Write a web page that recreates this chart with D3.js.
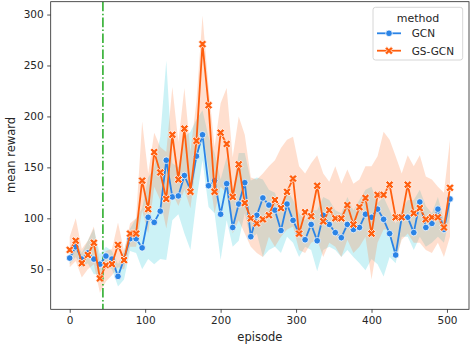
<!DOCTYPE html>
<html><head><meta charset="utf-8">
<script src="https://cdn.jsdelivr.net/npm/d3@7"></script>
<style>html,body{margin:0;padding:0;background:#fff;} svg{display:block;font-family:"DejaVu Sans",sans-serif;}</style>
</head><body>
<svg id="chart" width="473" height="347"></svg>
<script>
const episodes = [0,8,16,24,32,40,48,56,64,72,80,88,96,104,112,120,128,136,144,152,160,168,176,184,192,200,208,216,224,232,240,248,256,264,272,280,288,296,304,312,320,328,336,344,352,360,368,376,384,392,400,408,416,424,432,440,448,456,464,472,480,488,496,504];
const gcnMean = [61,72,60,66,60,55,63,60,43,60,80,80,71,101,96,107,157,121,122,142,128,161,182,132,137,104,134,91,114,135,82,103,120,113,108,88,114,98,85,79,94,78,103,94,86,81,94,89,91,104,101,109,99,85,64,101,101,86,116,91,95,109,89,119];
const gcnLow = [55,62,52,56,45,45,52,50,33,40,68,66,50,60,55,60,59,98,104,85,69,118,157,111,105,59,98,72,78,105,79,85,62,69,72,66,82,76,62,72,69,48,69,72,69,62,69,62,56,49,60,55,43,62,56,82,82,69,82,72,76,82,76,102];
const gcnHigh = [68,78,66,78,90,65,72,68,55,68,90,100,110,140,150,180,255,154,150,180,185,197,206,180,164,138,160,125,164,164,137,140,138,128,125,108,128,118,105,98,108,108,121,118,108,105,121,108,118,128,131,115,121,108,95,108,118,118,128,112,105,121,98,128];
const gsMean = [69,78,56,64,76,41,54,55,74,59,85,85,137,109,165,145,119,182,138,188,126,176,271,211,126,184,173,121,153,115,100,95,99,103,118,110,126,139,85,106,102,132,97,108,100,100,113,94,111,120,85,123,123,133,101,101,133,105,110,99,101,101,91,130];
const gsLow = [52,58,42,50,55,27,38,44,52,50,72,72,108,85,131,118,90,125,112,128,110,157,184,148,105,131,125,85,98,85,72,66,62,82,72,82,89,92,69,66,76,79,62,76,72,62,79,66,72,82,40,76,89,89,59,79,85,76,76,69,66,76,62,82];
const gsHigh = [82,100,70,78,92,55,68,70,96,68,95,100,195,144,184,170,165,229,175,228,165,215,299,229,170,213,228,160,200,182,140,138,144,151,157,169,177,180,151,144,154,162,144,136,151,134,148,134,138,151,151,161,185,177,161,144,162,151,162,141,138,131,125,177];
const xTicks = [0,100,200,300,400,500];
const yTicks = [50,100,150,200,250,300];
const methods = ["GCN","GS-GCN"];
const markerEpisode = 44;

const svg = d3.select("#chart");
const L = 50.7, R = 469, T = 1.7, B = 309.3;
const x = d3.scaleLinear().domain([-25.2, 529.2]).range([L, R]);
const y = d3.scaleLinear().domain([10.7, 312.6]).range([B, T]);

const colors = {"GCN": "#2b84e6", "GS-GCN": "#ff5f0f"};
const bandColors = {"GCN": "rgba(0,188,212,0.2)", "GS-GCN": "rgba(255,127,63,0.25)"};

const series = [
  {name: "GCN", mean: gcnMean, low: gcnLow, high: gcnHigh},
  {name: "GS-GCN", mean: gsMean, low: gsLow, high: gsHigh}
];

svg.append("clipPath").attr("id","clip").append("rect")
  .attr("x", L).attr("y", T).attr("width", R-L).attr("height", B-T);

const plot = svg.append("g").attr("clip-path","url(#clip)");

series.forEach(s => {
  const area = d3.area()
    .x((d,i) => x(episodes[i]))
    .y0((d,i) => y(s.low[i]))
    .y1((d,i) => y(s.high[i]));
  plot.append("path").datum(s.mean).attr("d", area).attr("fill", bandColors[s.name]).attr("stroke","none");
});

plot.append("line").attr("x1", x(markerEpisode)).attr("x2", x(markerEpisode))
  .attr("y1", T).attr("y2", B)
  .attr("stroke", "#1fa81f").attr("stroke-width", 1.5)
  .attr("stroke-dasharray", "9.6,2.4,1.5,2.4");

const xSym = d3.symbol(d3.symbolCross, 42);
series.forEach(s => {
  const line = d3.line().x((d,i) => x(episodes[i])).y(d => y(d));
  plot.append("path").datum(s.mean).attr("d", line).attr("fill","none")
    .attr("stroke", colors[s.name]).attr("stroke-width", 1.8).attr("stroke-linejoin","round");
  const g = plot.append("g");
  s.mean.forEach((v,i) => {
    if (s.name === "GCN") {
      g.append("circle").attr("cx", x(episodes[i])).attr("cy", y(v)).attr("r", 3.3)
        .attr("fill", colors[s.name]).attr("stroke","#fff").attr("stroke-width",0.75);
    } else {
      g.append("path").attr("d", xSym())
        .attr("transform", `translate(${x(episodes[i])},${y(v)}) rotate(45)`)
        .attr("fill", colors[s.name]).attr("stroke","#fff").attr("stroke-width",0.75);
    }
  });
});

const xAxis = d3.axisBottom(x).tickValues(xTicks).tickSize(3.5).tickPadding(3.5);
const yAxis = d3.axisLeft(y).tickValues(yTicks).tickSize(3.5).tickPadding(3.5);
const gx = svg.append("g").attr("transform", `translate(0,${B})`).call(xAxis);
const gy = svg.append("g").attr("transform", `translate(${L},0)`).call(yAxis);
[gx, gy].forEach(g => {
  g.select(".domain").remove();
  g.selectAll("line").attr("stroke","#262626").attr("stroke-width",0.8);
  g.selectAll("text").attr("font-size", 10.5).attr("fill","#262626").attr("font-family","DejaVu Sans");
});

svg.append("rect").attr("x", L).attr("y", T).attr("width", R-L).attr("height", B-T)
  .attr("fill","none").attr("stroke","#262626").attr("stroke-width",0.8);

svg.append("text").attr("x", (L+R)/2).attr("y", 341).attr("text-anchor","middle")
  .attr("font-size",11.5).attr("fill","#262626").text("episode");
svg.append("text").attr("transform","translate(15,155) rotate(-90)").attr("text-anchor","middle")
  .attr("font-size",11.5).attr("fill","#262626").text("mean reward");

const lg = svg.append("g");
lg.append("rect").attr("x",373).attr("y",7.3).attr("width",89.7).attr("height",52.7).attr("rx",2.5)
  .attr("fill","rgba(255,255,255,0.8)").attr("stroke","#cccccc").attr("stroke-width",0.8);
lg.append("text").attr("x",418).attr("y",21.5).attr("text-anchor","middle").attr("font-size",11)
  .attr("fill","#262626").text("method");
methods.forEach((m,i) => {
  const yy = 33.3 + i*17.4;
  lg.append("line").attr("x1",377).attr("x2",401).attr("y1",yy).attr("y2",yy)
    .attr("stroke",colors[m]).attr("stroke-width",1.8);
  if (m === "GCN") {
    lg.append("circle").attr("cx",389).attr("cy",yy).attr("r",3.3).attr("fill",colors[m])
      .attr("stroke","#fff").attr("stroke-width",0.75);
  } else {
    lg.append("path").attr("d", xSym()).attr("transform",`translate(389,${yy}) rotate(45)`)
      .attr("fill",colors[m]).attr("stroke","#fff").attr("stroke-width",0.75);
  }
  lg.append("text").attr("x",411.7).attr("y",yy+4).attr("font-size",10.5).attr("fill","#262626").text(m);
});
</script>
</body></html>
